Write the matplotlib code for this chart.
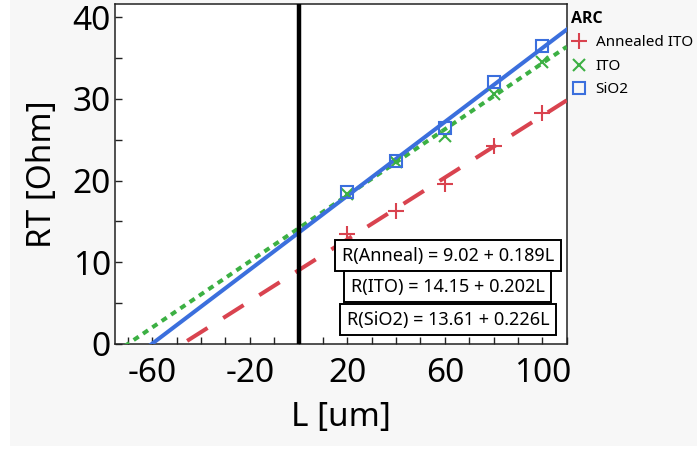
import matplotlib
matplotlib.use("Agg")
import matplotlib.pyplot as plt
from matplotlib.lines import Line2D
from matplotlib.patches import Rectangle
from matplotlib.font_manager import FontProperties
import numpy as np

plt.rcParams['font.family'] = ['Noto Sans', 'DejaVu Sans']

# Measured series
L_um = [20, 40, 60, 80, 100]
rt_annealed_ito = [13.4, 16.3, 19.6, 24.2, 28.3]
rt_ito = [18.4, 22.3, 25.5, 30.6, 34.55]
rt_sio2 = [18.6, 22.4, 26.4, 32.0, 36.5]

# Linear fits R = a + b*L
fit_anneal = (9.02, 0.189)
fit_ito = (14.15, 0.202)
fit_sio2 = (13.61, 0.226)

legend_title = "ARC"
series_names = ["Annealed ITO", "ITO", "SiO2"]
x_tick_labels = [-60, -20, 20, 60, 100]
y_tick_labels = [0, 10, 20, 30, 40]

c_red = '#d9434f'
c_green = '#3cb043'
c_blue = '#3b6fdd'

fig = plt.figure(figsize=(6.98, 4.5), dpi=100, facecolor='white')
fig.patches.append(Rectangle((10 / 698, 4 / 450), 687 / 698, 446 / 450,
                             transform=fig.transFigure, facecolor='#f7f7f7',
                             edgecolor='none', zorder=-10))
ax = fig.add_axes([115 / 698, (450 - 344) / 450, (566.7 - 115) / 698, 340 / 450])
ax.set_facecolor('white')

xmin, xmax = -75.3, 110.0
ymin, ymax = 0, 41.6
ax.set_xlim(xmin, xmax)
ax.set_ylim(ymin, ymax)

xx = np.array([xmin, xmax])
lw = 2.9
ax.plot(xx, fit_anneal[0] + fit_anneal[1] * xx, color=c_red, lw=lw,
        linestyle=(0, (6.0, 4.6)), solid_capstyle='butt', zorder=3)
ax.plot(xx, fit_ito[0] + fit_ito[1] * xx, color=c_green, lw=lw,
        linestyle=(0, (1.5, 1.3)), zorder=3)
ax.plot(xx, fit_sio2[0] + fit_sio2[1] * xx, color=c_blue, lw=lw,
        linestyle='-', zorder=3)

ax.plot(L_um, rt_annealed_ito, linestyle='none', marker='+', ms=11, mew=1.5,
        color=c_red, zorder=4)
ax.plot(L_um, rt_ito, linestyle='none', marker='x', ms=8, mew=1.5,
        color=c_green, zorder=4)
ax.plot(L_um, rt_sio2, linestyle='none', marker='s', ms=9, mew=1.5,
        mfc='none', color=c_blue, zorder=4)

ax.axvline(0, color='black', lw=3.2, zorder=5)

ax.set_xticks(np.arange(-70, 111, 10), minor=True)
ax.set_xticks(x_tick_labels)
ax.set_xticklabels([str(v) for v in x_tick_labels])
ax.set_yticks(np.arange(0, 41, 5), minor=True)
ax.set_yticks(y_tick_labels)
ax.set_yticklabels([str(v) for v in y_tick_labels])
ax.tick_params(which='both', direction='in', length=5, width=1, color='#222222')
ax.tick_params(axis='x', which='major', labelsize=24, pad=9)
ax.tick_params(axis='y', which='major', labelsize=24, pad=3)
for s in ax.spines.values():
    s.set_linewidth(1.1)
    s.set_color('#222222')

ax.set_xlabel("L [um]", fontsize=24, labelpad=8)
ax.set_ylabel("RT [Ohm]", fontsize=24, labelpad=10)

box = dict(boxstyle='square,pad=0.36', facecolor='white', edgecolor='black', lw=1.4)
eqs = [
    (f"R(Anneal) = {fit_anneal[0]:.2f} + {fit_anneal[1]:.3f}L", 0.259),
    (f"R(ITO) = {fit_ito[0]:.2f} + {fit_ito[1]:.3f}L", 0.168),
    (f"R(SiO2) = {fit_sio2[0]:.2f} + {fit_sio2[1]:.3f}L", 0.071),
]
for txt, yf in eqs:
    ax.text(0.737, yf, txt, transform=ax.transAxes, ha='center', va='center',
            fontsize=13, bbox=box, zorder=6)

handles = [
    Line2D([], [], linestyle='none', marker='+', ms=11, mew=1.5, color=c_red),
    Line2D([], [], linestyle='none', marker='x', ms=8, mew=1.5, color=c_green),
    Line2D([], [], linestyle='none', marker='s', ms=9, mew=1.5, mfc='none', color=c_blue),
]
title_font = FontProperties(family='Open Sans', weight='bold', size=11.5)
leg = fig.legend(handles, series_names, loc='upper left',
                 bbox_to_anchor=(568 / 698, 1 - 8 / 450), frameon=False,
                 fontsize=11, title=legend_title, title_fontproperties=title_font,
                 alignment='left', handlelength=1.0, handletextpad=0.6,
                 labelspacing=0.55, borderpad=0.2, borderaxespad=0)

fig.savefig("out.png", dpi=100, facecolor=fig.get_facecolor())
